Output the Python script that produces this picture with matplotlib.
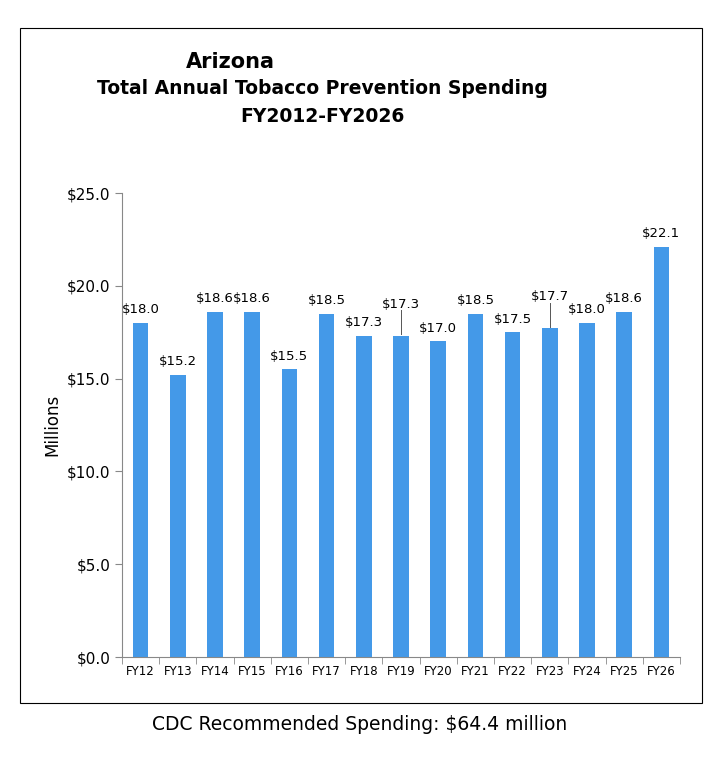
import matplotlib
matplotlib.use("Agg")
import matplotlib.pyplot as plt
from matplotlib.patches import Rectangle

categories = ["FY12","FY13","FY14","FY15","FY16","FY17","FY18","FY19","FY20","FY21","FY22","FY23","FY24","FY25","FY26"]
values = [18.0,15.2,18.6,18.6,15.5,18.5,17.3,17.3,17.0,18.5,17.5,17.7,18.0,18.6,22.1]
yticks = [0,5,10,15,20,25]

fig = plt.figure(figsize=(7.2,7.63), dpi=100)
fig.patches.append(Rectangle((20/720, 1-703/763), 682/720, 675/763, transform=fig.transFigure,
                             fill=False, edgecolor="black", linewidth=0.8))
ax = fig.add_axes([122/720, 1-657/763, 558/720, 464/763])
x = range(len(categories))
ax.bar(x, values, width=0.42, color="#4499E8")
ax.set_xlim(-0.5, len(categories)-0.5)
ax.set_ylim(0, 25)
ax.set_yticks(yticks)
ax.set_yticklabels([f"${v:.1f}" for v in yticks], fontsize=11)
ax.set_xticks(list(x))
ax.set_xticklabels(categories, fontsize=8.5)
ax.set_xticks([i+0.5 for i in range(-1, len(categories))], minor=True)
ax.tick_params(axis="x", which="major", length=0, pad=6)
ax.tick_params(axis="x", which="minor", length=5, color="#888888")
ax.tick_params(axis="y", length=5, color="#888888")
for s in ["top","right"]:
    ax.spines[s].set_visible(False)
for s in ["left","bottom"]:
    ax.spines[s].set_color("#888888")
ax.set_ylabel("Millions", fontsize=12)
lifted = {7: 1.0, 11: 1.0}
for i, v in enumerate(values):
    off = lifted.get(i, 0)
    ty = v + 0.35 + off
    ax.text(i, ty, f"${v:.1f}", ha="center", va="bottom", fontsize=9.5)
    if off:
        ax.plot([i, i], [v + 0.1, ty + 0.05], color="#555555", lw=0.7)
fig.text(230/720, 1-62/763, "Arizona", ha="center", va="center", fontsize=15, fontweight="bold")
fig.text(322/720, 1-89/763, "Total Annual Tobacco Prevention Spending", ha="center", va="center", fontsize=13.5, fontweight="bold")
fig.text(322/720, 1-116/763, "FY2012-FY2026", ha="center", va="center", fontsize=13.5, fontweight="bold")
fig.text(360/720, 1-724/763, "CDC Recommended Spending: $64.4 million", ha="center", va="center", fontsize=13.5)
fig.savefig("out.png", dpi=100)
